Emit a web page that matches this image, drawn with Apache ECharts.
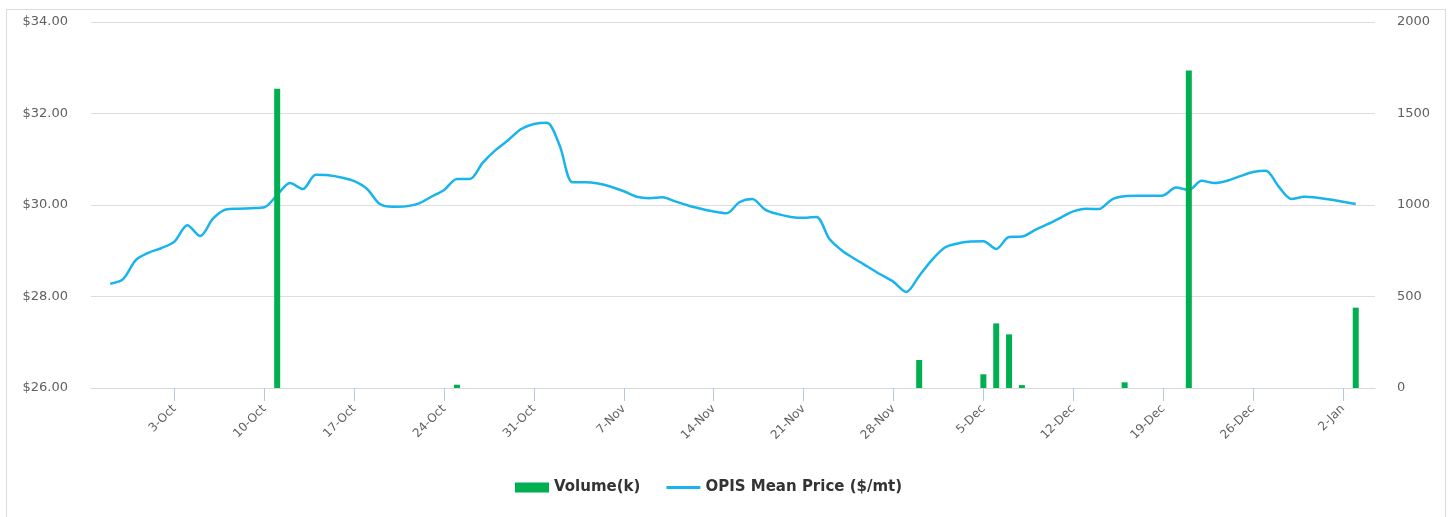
<!DOCTYPE html>
<html>
<head>
<meta charset="utf-8">
<script src="https://cdn.jsdelivr.net/npm/echarts@6/dist/echarts.min.js"></script>
<style>
  html, body { margin: 0; padding: 0; background: #fff; }
  #frame { position: absolute; left: 6px; top: 9px; width: 1440px; height: 520px; border: 1px solid #dcdcdc; box-sizing: border-box; }
  #chart { position: absolute; left: 0; top: 0; width: 1452px; height: 517px; }
</style>
</head>
<body>
<div id="frame"></div>
<div id="chart"></div>
<script>
// Categories: every day from 27-Sep to 4-Jan
const months = ['Jan','Feb','Mar','Apr','May','Jun','Jul','Aug','Sep','Oct','Nov','Dec'];
const categories = [];
(function () {
  const d = new Date(2022, 8, 27);
  for (let i = 0; i < 100; i++) {
    categories.push(d.getDate() + '-' + months[d.getMonth()]);
    d.setDate(d.getDate() + 1);
  }
})();

// OPIS Mean Price ($/mt), daily from 28-Sep to 3-Jan
const priceStartIndex = 1;
const priceValues = [
  28.28, 28.38, 28.80, 28.96, 29.06, 29.20, 29.56, 29.32, 29.70, 29.90,
  29.92, 29.93, 29.95, 30.22, 30.48, 30.35, 30.66, 30.65, 30.60, 30.52,
  30.35, 30.02, 29.96, 29.97, 30.03, 30.18, 30.33, 30.57, 30.57, 30.92,
  31.20, 31.42, 31.66, 31.77, 31.80, 31.30, 30.50, 30.50, 30.47, 30.40,
  30.30, 30.18, 30.15, 30.17, 30.08, 29.99, 29.92, 29.86, 29.82, 30.06,
  30.13, 29.90, 29.80, 29.74, 29.72, 29.74, 29.26, 29.00, 28.82, 28.65,
  28.48, 28.32, 28.10, 28.45, 28.80, 29.07, 29.16, 29.20, 29.21, 29.04,
  29.30, 29.31, 29.45, 29.58, 29.72, 29.86, 29.92, 29.91, 30.12, 30.19,
  30.20, 30.20, 30.21, 30.38, 30.33, 30.53, 30.48, 30.53, 30.63, 30.72,
  30.75, 30.40, 30.13, 30.18, 30.16, 30.12, 30.07, 30.02
];

// Volume(k)
const volumeDates = ['11-Oct', '25-Oct', '30-Nov', '5-Dec', '6-Dec', '7-Dec', '8-Dec', '16-Dec', '21-Dec', '3-Jan'];
const volumeValues = [1635, 18, 153, 75, 353, 293, 16, 31, 1735, 439];

// Axis ticks
const leftTicks = { min: 26, max: 34, interval: 2 };
const rightTicks = { min: 0, max: 2000, interval: 500 };
const firstLabelIndex = 6; // 3-Oct
const labelStep = 7;

const priceData = priceValues.map((v, i) => [categories[i + priceStartIndex], v]);
const volumeData = volumeDates.map((d, i) => [d, volumeValues[i]]);
const showTick = (idx) => idx >= firstLabelIndex && (idx - firstLabelIndex) % labelStep === 0;

const chart = echarts.init(document.getElementById('chart'));
chart.setOption({
  animation: false,
  grid: { left: 91, right: 77, top: 22, bottom: 129, containLabel: false },
  legend: {
    left: 515, top: 480, padding: 0,
    itemWidth: 34, itemHeight: 10, itemGap: 26,
    textStyle: { fontFamily: 'DejaVu Sans', fontSize: 15, fontWeight: 'bold', color: '#333' },
    data: [
      { name: 'Volume(k)', icon: 'rect' },
      { name: 'OPIS Mean Price ($/mt)', icon: 'path://M0,0H34V3H0Z' }
    ]
  },
  xAxis: {
    type: 'category',
    data: categories,
    boundaryGap: true,
    axisLine: { show: true, lineStyle: { color: '#d9d9d9', width: 1 } },
    axisTick: { show: true, alignWithLabel: true, interval: showTick, length: 13, lineStyle: { color: '#b8c9dc' } },
    axisLabel: {
      interval: showTick, rotate: 45, margin: 19,
      fontFamily: 'DejaVu Sans', fontSize: 12, color: '#606060'
    },
    splitLine: { show: false }
  },
  yAxis: [
    {
      type: 'value', position: 'left',
      min: leftTicks.min, max: leftTicks.max, interval: leftTicks.interval,
      axisLine: { show: false }, axisTick: { show: false },
      axisLabel: { margin: 23, fontFamily: 'DejaVu Sans', fontSize: 13, color: '#606060',
        formatter: (v) => '$' + v.toFixed(2) },
      splitLine: { show: true, lineStyle: { color: '#dedede', width: 1 } }
    },
    {
      type: 'value', position: 'right',
      min: rightTicks.min, max: rightTicks.max, interval: rightTicks.interval,
      axisLine: { show: false }, axisTick: { show: false },
      axisLabel: { margin: 22, fontFamily: 'DejaVu Sans', fontSize: 13, color: '#606060',
        formatter: (v) => String(v) },
      splitLine: { show: false }
    }
  ],
  series: [
    {
      name: 'Volume(k)',
      type: 'bar',
      yAxisIndex: 1,
      barWidth: 6,
      z: 3,
      itemStyle: { color: '#00b050' },
      data: volumeData
    },
    {
      name: 'OPIS Mean Price ($/mt)',
      type: 'line',
      yAxisIndex: 0,
      smooth: 0.3,
      symbol: 'none',
      z: 2,
      lineStyle: { color: '#1ab4ec', width: 2.5 },
      itemStyle: { color: '#1ab4ec' },
      data: priceData
    }
  ]
});
</script>
</body>
</html>
